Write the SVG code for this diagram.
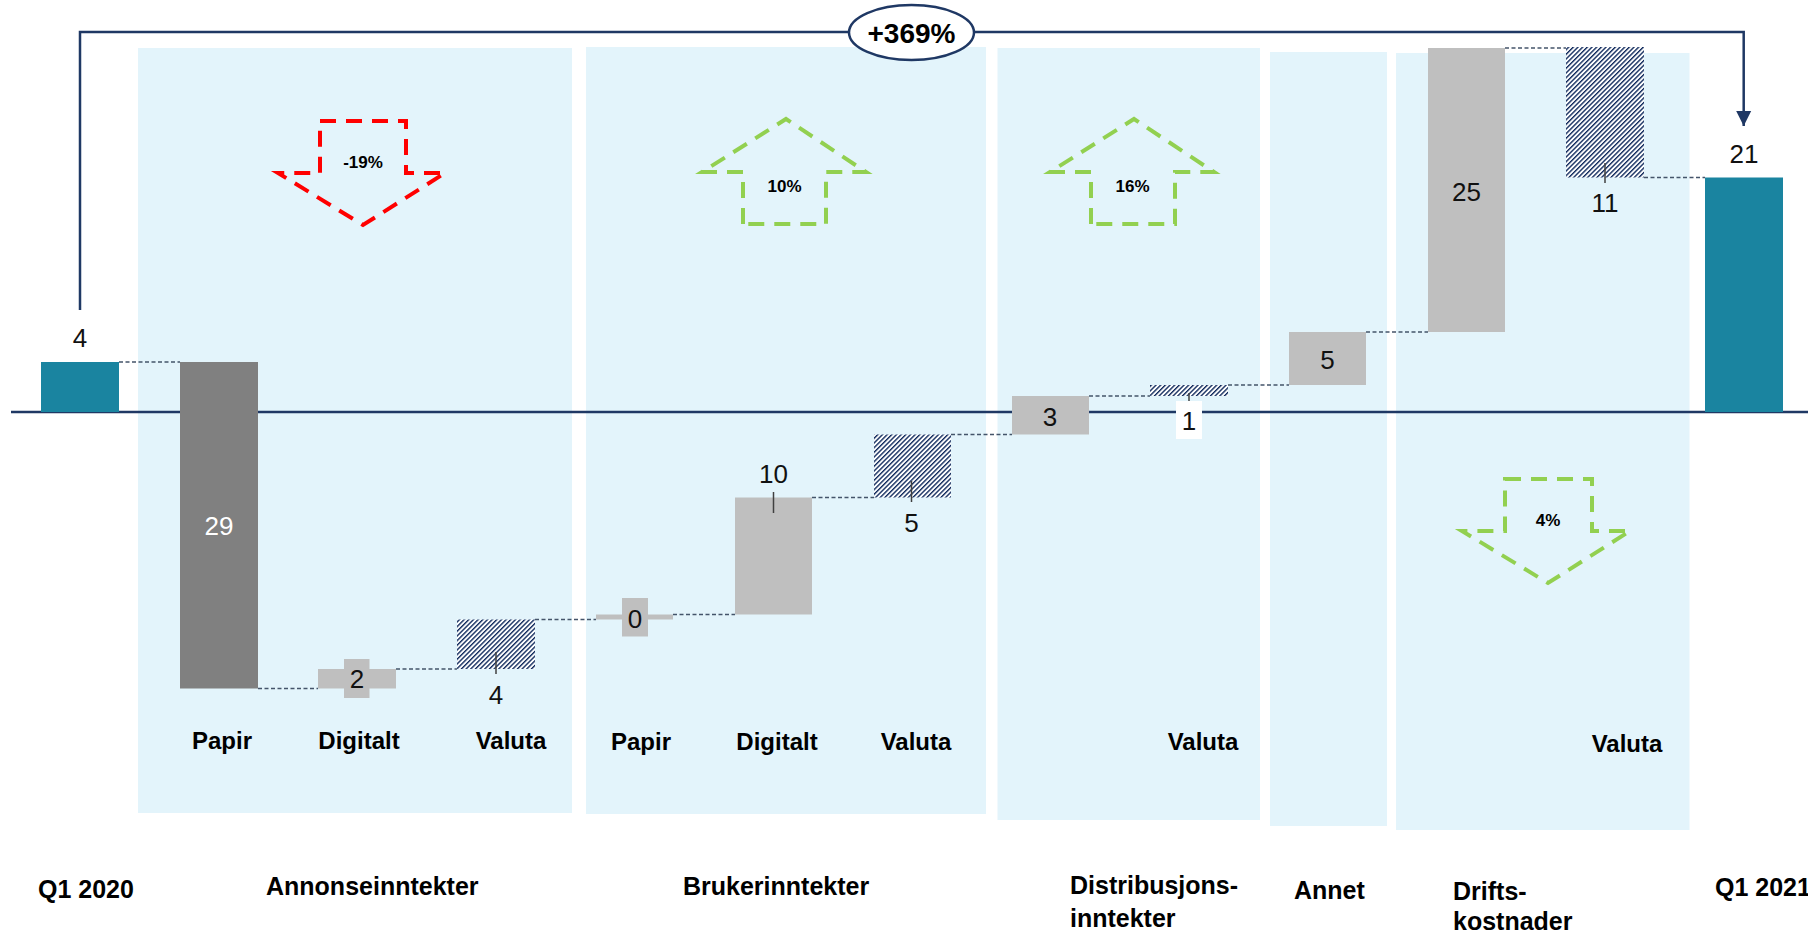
<svg xmlns="http://www.w3.org/2000/svg" width="1808" height="936" viewBox="0 0 1808 936">
<defs>
<pattern id="hatch" width="3.3" height="3.3" patternUnits="userSpaceOnUse" patternTransform="rotate(45)">
<rect width="3.3" height="3.3" fill="#ffffff"/>
<line x1="0.7" y1="0" x2="0.7" y2="3.3" stroke="#0B2559" stroke-width="1.35"/>
</pattern>
<marker id="arr" markerWidth="16" markerHeight="16" viewBox="0 0 16 16" refX="15" refY="8" orient="auto" markerUnits="userSpaceOnUse">
<path d="M0,0.5 L15,8 L0,15.5 Z" fill="#1F3864"/>
</marker>
<style>
.panel{fill:#E3F4FB}
.teal{fill:#1A84A0}
.dark{fill:#808080}
.lg{fill:#BFBFBF}
.hat{fill:url(#hatch)}
.conn{stroke:#44546A;stroke-width:1.5;stroke-dasharray:4 2.5;fill:none}
.tick{stroke:#404040;stroke-width:1.5}
.navy{stroke:#1F3864;stroke-width:2.5;fill:none}
.val{font-family:"Liberation Sans",Arial,sans-serif;font-size:26px;fill:#111111;text-anchor:middle}
.sub{font-family:"Liberation Sans",Arial,sans-serif;font-size:24px;font-weight:bold;fill:#000000;text-anchor:middle}
.cat{font-family:"Liberation Sans",Arial,sans-serif;font-size:25px;font-weight:bold;fill:#000000}
.pct{font-family:"Liberation Sans",Arial,sans-serif;font-size:17px;font-weight:bold;fill:#000000;text-anchor:middle}
.red{stroke:#FF0000;stroke-width:4;stroke-dasharray:16 10;fill:none}
.grn{stroke:#92D050;stroke-width:4;stroke-dasharray:16 10;fill:none}
</style>
</defs>
<rect width="1808" height="936" fill="#ffffff"/>

<g id="panels">
<rect class="panel" x="138" y="48" width="434" height="765"/>
<rect class="panel" x="586" y="47" width="400" height="767"/>
<rect class="panel" x="997.5" y="48" width="262.5" height="772"/>
<rect class="panel" x="1270" y="52" width="117" height="774"/>
<rect class="panel" x="1396" y="53" width="293.5" height="777"/>
</g>

<g id="axis">
<line x1="11" y1="412" x2="1808" y2="412" class="navy"/>
</g>

<g id="connectors">
<line class="conn" x1="119" y1="362" x2="180" y2="362"/>
<line class="conn" x1="258" y1="688.5" x2="318" y2="688.5"/>
<line class="conn" x1="396" y1="669" x2="457" y2="669"/>
<line class="conn" x1="535" y1="619.5" x2="596" y2="619.5"/>
<line class="conn" x1="673" y1="614.5" x2="735" y2="614.5"/>
<line class="conn" x1="812" y1="497.5" x2="874" y2="497.5"/>
<line class="conn" x1="951" y1="434.5" x2="1012" y2="434.5"/>
<line class="conn" x1="1089" y1="396" x2="1150" y2="396"/>
<line class="conn" x1="1228" y1="385" x2="1289" y2="385"/>
<line class="conn" x1="1366" y1="332" x2="1428" y2="332"/>
<line class="conn" x1="1505" y1="48" x2="1566" y2="48"/>
<line class="conn" x1="1644" y1="177.5" x2="1705" y2="177.5"/>
<path class="navy" d="M80,310 L80,32 L1743.7,32 L1743.7,126" marker-end="url(#arr)"/>
</g>

<g id="total-badge">
<ellipse cx="911.5" cy="32.5" rx="62.5" ry="27.5" fill="#ffffff" stroke="#1F3864" stroke-width="2.5"/>
<text x="911.5" y="42.5" font-family="'Liberation Sans',Arial,sans-serif" font-size="28" font-weight="bold" text-anchor="middle" fill="#000">+369%</text>
</g>

<g id="q1-2020">
<rect class="teal" x="41" y="362" width="78" height="50"/>
<text class="val" x="80" y="347">4</text>
</g>

<g id="annonse-papir">
<rect class="dark" x="180" y="362" width="78" height="326.5"/>
<text class="val" x="219" y="535" style="fill:#ffffff">29</text>
</g>

<g id="annonse-digitalt">
<rect class="lg" x="318" y="669" width="78" height="19.5"/>
<rect class="lg" x="344" y="659" width="25.5" height="39"/>
<text class="val" x="357" y="688">2</text>
</g>

<g id="annonse-valuta">
<rect class="hat" x="457" y="619.5" width="78" height="49.5"/>
<line class="tick" x1="496" y1="652" x2="496" y2="674"/>
<text class="val" x="496" y="704">4</text>
</g>

<g id="bruker-papir">
<rect class="lg" x="596" y="614.5" width="77" height="5"/>
<rect class="lg" x="622" y="598" width="26" height="38.5"/>
<text class="val" x="635" y="627.5">0</text>
</g>

<g id="bruker-digitalt">
<rect class="lg" x="735" y="497.5" width="77" height="117"/>
<line class="tick" x1="773.5" y1="492" x2="773.5" y2="513"/>
<text class="val" x="773.5" y="483">10</text>
</g>

<g id="bruker-valuta">
<rect class="hat" x="874" y="434.5" width="77" height="63"/>
<line class="tick" x1="911.5" y1="481" x2="911.5" y2="502"/>
<text class="val" x="911.5" y="532">5</text>
</g>

<g id="distribusjon">
<rect class="lg" x="1012" y="396" width="77" height="38.5"/>
<text class="val" x="1050" y="426">3</text>
</g>

<g id="distribusjon-valuta">
<rect class="hat" x="1150" y="385" width="78" height="11"/>
<rect x="1176" y="401" width="26" height="38" fill="#ffffff"/>
<line class="tick" x1="1189" y1="393" x2="1189" y2="401"/>
<text class="val" x="1189" y="430">1</text>
</g>

<g id="annet">
<rect class="lg" x="1289" y="332" width="77" height="53"/>
<text class="val" x="1327.5" y="369">5</text>
</g>

<g id="drift">
<rect class="lg" x="1428" y="48" width="77" height="284"/>
<text class="val" x="1466.5" y="200.5">25</text>
</g>

<g id="drift-valuta">
<rect class="hat" x="1566" y="47" width="78" height="130.5"/>
<line class="tick" x1="1605" y1="163" x2="1605" y2="183"/>
<text class="val" x="1605" y="212">11</text>
</g>

<g id="q1-2021">
<rect class="teal" x="1705" y="177.5" width="78" height="234.5"/>
<text class="val" x="1744" y="163">21</text>
</g>

<g id="arrow-annonse">
<path class="red" d="M320,121 L406,121 L406,173 L445,173 L363,225 L278,173 L320,173 Z"/>
<text class="pct" x="363" y="168">-19%</text>
</g>

<g id="arrow-bruker">
<path class="grn" d="M743,224 L743,172 L702,172 L786,119 L866,172 L826,172 L826,224 Z"/>
<text class="pct" x="784.5" y="191.5">10%</text>
</g>

<g id="arrow-distribusjon">
<path class="grn" d="M1091,224 L1091,172 L1050,172 L1134,119 L1214,172 L1175,172 L1175,224 Z"/>
<text class="pct" x="1132.5" y="191.5">16%</text>
</g>

<g id="arrow-drift">
<path class="grn" d="M1505,479 L1592,479 L1592,531 L1630,531 L1548,583 L1462,531 L1505,531 Z"/>
<text class="pct" x="1548" y="525.5">4%</text>
</g>

<g id="sub-labels">
<text class="sub" x="222" y="749">Papir</text>
<text class="sub" x="359" y="749">Digitalt</text>
<text class="sub" x="511" y="749">Valuta</text>
<text class="sub" x="641" y="750">Papir</text>
<text class="sub" x="777" y="750">Digitalt</text>
<text class="sub" x="916" y="750">Valuta</text>
<text class="sub" x="1203" y="750">Valuta</text>
<text class="sub" x="1627" y="752">Valuta</text>
</g>

<g id="category-labels">
<text class="cat" x="38" y="898">Q1 2020</text>
<text class="cat" x="266" y="895">Annonseinntekter</text>
<text class="cat" x="683" y="895">Brukerinntekter</text>
<text class="cat" x="1070" y="894">Distribusjons-</text>
<text class="cat" x="1070" y="927">inntekter</text>
<text class="cat" x="1294" y="899">Annet</text>
<text class="cat" x="1453" y="900">Drifts-</text>
<text class="cat" x="1453" y="930">kostnader</text>
<text class="cat" x="1715" y="896">Q1 2021</text>
</g>
</svg>
